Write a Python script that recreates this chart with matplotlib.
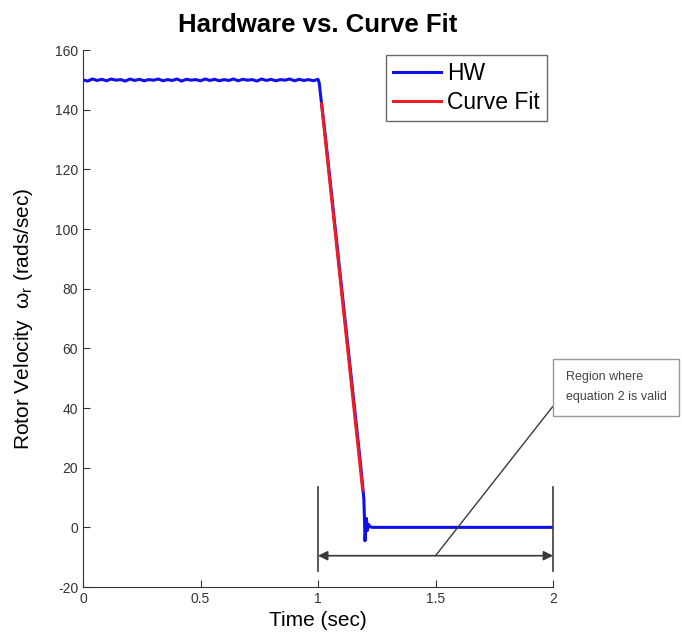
import matplotlib
matplotlib.use('Agg')
import matplotlib.pyplot as plt

plt.rcParams['font.family'] = ['Liberation Sans', 'DejaVu Sans']
plt.rcParams['axes.unicode_minus'] = False
plt.rcParams['mathtext.fontset'] = 'custom'
plt.rcParams['mathtext.rm'] = 'Liberation Sans'
plt.rcParams['mathtext.it'] = 'Liberation Sans'

hw_t = [0.0, 0.02, 0.04, 0.06, 0.08, 0.1, 0.12, 0.14, 0.16, 0.18, 0.2,
        0.22, 0.24, 0.26, 0.28, 0.3, 0.32, 0.34, 0.36, 0.38, 0.4, 0.42,
        0.44, 0.46, 0.48, 0.5, 0.52, 0.54, 0.56, 0.58, 0.6, 0.62, 0.64,
        0.66, 0.68, 0.7, 0.72, 0.74, 0.76, 0.78, 0.8, 0.82, 0.84, 0.86,
        0.88, 0.9, 0.92, 0.94, 0.96, 0.98, 1.0, 1.005, 1.01, 1.03,
        1.06, 1.09, 1.12, 1.15, 1.18, 1.19, 1.195, 1.198, 1.2, 1.203, 1.206,
        1.21, 1.215, 1.22, 1.23, 1.5, 2.0]
hw_w = [150.0, 149.6, 150.3, 149.8, 150.2, 149.7, 150.3, 149.9, 150.1,
        149.6, 150.3, 149.8, 150.2, 149.7, 150.1, 149.9, 150.3, 149.7,
        150.1, 149.8, 150.3, 149.6, 150.2, 149.9, 150.1, 149.7, 150.3,
        149.8, 150.2, 149.7, 150.1, 149.8, 150.3, 149.7, 150.2, 149.9,
        150.1, 149.6, 150.3, 149.8, 150.2, 149.7, 150.1, 149.9, 150.3,
        149.7, 150.2, 149.8, 150.1, 149.7, 150.2, 149.0, 145.5, 132.0,
        110.0, 88.0, 66.0, 44.0, 22.0, 14.0, 9.5, 2.0, -4.5, -1.0, 3.0,
        -1.0, 1.0, 0.3, 0.0, 0.0, 0.0]

# curve fit
fit_t = [1.015, 1.19]
fit_w = [142.0, 12.5]

# "region where valid" bracket
region_x = [1.0, 2.0]
region_ylo, region_yhi = -14.5, 13.5
arrow_y = -9.5

fig = plt.figure(figsize=(6.82, 6.36), dpi=100)
ax = fig.add_axes([0.1217, 0.0770, 0.6892, 0.8443])

ax.plot(hw_t, hw_w, color='#1010ee', lw=2.2, label='HW')
ax.plot(fit_t, fit_w, color='#ee1c24', lw=2.2, label='Curve Fit')

ax.set_xlim(0, 2)
ax.set_ylim(-20, 160)
ax.set_xticks([0, 0.5, 1, 1.5, 2])
ax.set_xticklabels(['0', '0.5', '1', '1.5', '2'])
ax.set_yticks(range(-20, 161, 20))
ax.spines['top'].set_visible(False)
ax.spines['right'].set_visible(False)
for s in ('left', 'bottom'):
    ax.spines[s].set_color('#333333')
ax.tick_params(direction='in', length=5, labelsize=10, colors='#333333',
               labelcolor='#333333')

ax.set_title('Hardware vs. Curve Fit', fontsize=18.5, fontweight='bold',
             pad=13)
ax.set_xlabel('Time (sec)', fontsize=15, labelpad=4)
ax.set_ylabel(r'Rotor Velocity  $\omega_r$ (rads/sec)', fontsize=15,
              labelpad=14)

leg = ax.legend(loc='upper right', fontsize=16.5, frameon=True,
                fancybox=False, handlelength=2.1, handletextpad=0.26,
                borderpad=0.3, labelspacing=0.25, borderaxespad=0,
                bbox_to_anchor=(0.987, 0.99))
leg.get_frame().set_edgecolor('#444444')
leg.get_frame().set_linewidth(1.0)

# bracket and annotation
gray = '#3a3a3a'
for x in region_x:
    ax.plot([x, x], [region_ylo, region_yhi], color=gray, lw=1.2,
            clip_on=False)
ax.annotate('', xy=(region_x[0], arrow_y), xytext=(region_x[1], arrow_y),
            arrowprops=dict(arrowstyle='<|-|>', color=gray, lw=1.2,
                            mutation_scale=14, shrinkA=0, shrinkB=0))
ax.annotate('Region where\nequation 2 is valid', xy=(1.5, arrow_y),
            xytext=(2.055, 47), textcoords='data', fontsize=9,
            color='#444444', ha='left', va='center', linespacing=1.9,
            annotation_clip=False,
            bbox=dict(boxstyle='square,pad=1.0', fc='white', ec='#999999',
                      lw=1.0),
            arrowprops=dict(arrowstyle='-', color=gray, lw=1.0,
                            shrinkA=0, shrinkB=0, relpos=(0.0, 0.42)))

fig.savefig('out.png', dpi=100)
